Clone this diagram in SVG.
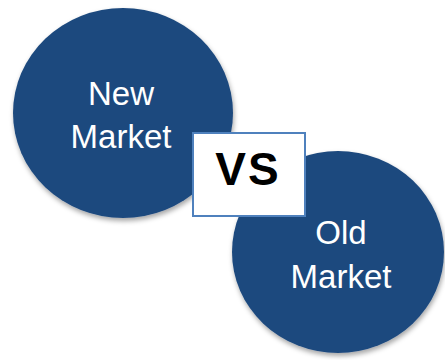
<svg xmlns="http://www.w3.org/2000/svg" width="445" height="360" viewBox="0 0 445 360">
<defs>
<filter id="sh" x="-10%" y="-10%" width="130%" height="130%">
<feDropShadow dx="1" dy="3" stdDeviation="2.5" flood-color="#000" flood-opacity="0.35"/>
</filter>
<style>
.c{fill:#1F4A7E;filter:url(#sh)}
.t{font-family:"Liberation Sans",Arial,sans-serif;font-size:33px;fill:#fff;text-anchor:middle}
.vs{font-family:"Liberation Sans",Arial,sans-serif;font-size:46px;font-weight:bold;fill:#000;text-anchor:middle}
</style>
</defs>
<rect width="445" height="360" fill="#fff"/>
<g id="new-market">
<ellipse class="c" cx="123" cy="113" rx="110" ry="105"/>
<text class="t" x="121" y="105">New</text>
<text class="t" x="121" y="148">Market</text>
</g>
<g id="old-market">
<ellipse class="c" cx="338" cy="252" rx="106" ry="101"/>
<text class="t" x="341" y="244">Old</text>
<text class="t" x="341" y="288">Market</text>
</g>
<g id="vs">
<rect x="193" y="133" width="112" height="83" fill="#fff" stroke="#4F81BD" stroke-width="2"/>
<text class="vs" x="248" y="185" letter-spacing="2">VS</text>
</g>
<g id="connectors"/>
</svg>
